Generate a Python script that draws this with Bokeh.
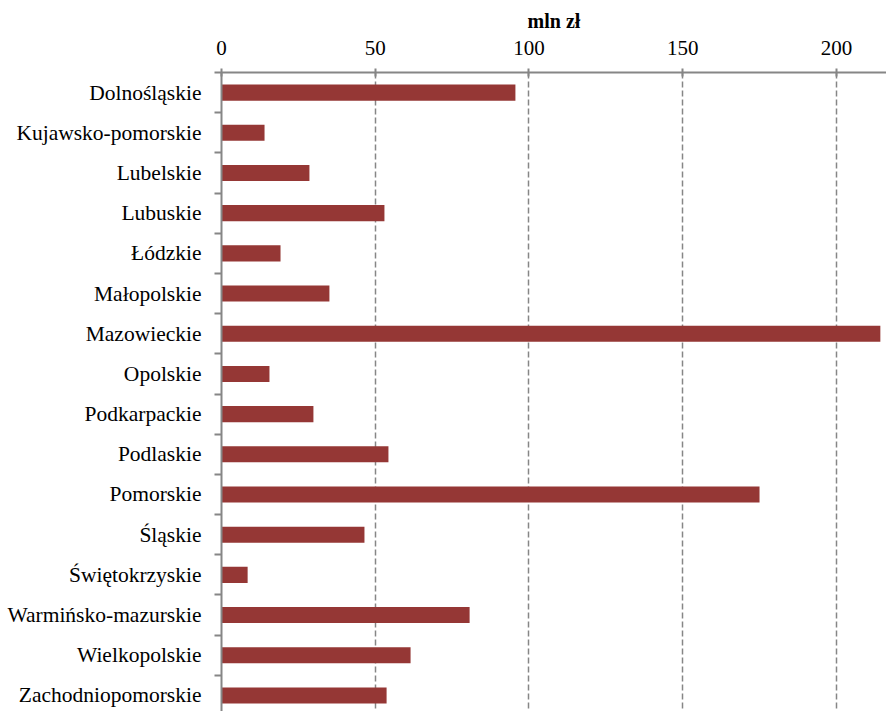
from bokeh.plotting import figure
from bokeh.models import Range1d, FixedTicker
from bokeh.embed import file_html
from bokeh.resources import INLINE

regions = ["Dolnośląskie", "Kujawsko-pomorskie", "Lubelskie", "Lubuskie", "Łódzkie",
           "Małopolskie", "Mazowieckie", "Opolskie", "Podkarpackie", "Podlaskie",
           "Pomorskie", "Śląskie", "Świętokrzyskie", "Warmińsko-mazurskie",
           "Wielkopolskie", "Zachodniopomorskie"]
values = [95.6, 14.0, 28.6, 53.0, 19.2, 35.1, 214.3, 15.6, 29.9, 54.3,
          175.0, 46.5, 8.5, 80.7, 61.5, 53.7]
x_ticks = [0, 50, 100, 150, 200]
x_title = "mln zł"

positions = list(range(1, len(regions) + 1))
boundaries = [i + 0.5 for i in range(0, len(regions) + 1)]

FONT = "Liberation Serif"
GRAY = "#868686"

p = figure(width=886, height=711, output_backend="svg", toolbar_location=None,
           x_axis_location="above",
           x_range=Range1d(0, 216.3), y_range=Range1d(16.4, 0.5),
           min_border_left=221, min_border_top=72, min_border_right=0, min_border_bottom=0)
p.outline_line_color = None

p.hbar(y=positions, right=values, left=0, height=0.4, fill_color="#953735",
       line_color=None)

xa = p.xaxis[0]
xa.ticker = FixedTicker(ticks=x_ticks)
xa.axis_label = x_title
xa.axis_label_text_font = FONT
xa.axis_label_text_font_style = "bold"
xa.axis_label_text_font_size = "20px"
xa.axis_label_text_color = "black"
xa.axis_label_standoff = 6
xa.major_label_text_font = FONT
xa.major_label_text_font_size = "21px"
xa.major_label_text_color = "black"
xa.major_label_standoff = 14
xa.axis_line_color = GRAY
xa.axis_line_width = 2
xa.major_tick_line_color = GRAY
xa.major_tick_line_width = 2
xa.major_tick_in = 4
xa.major_tick_out = 4
xa.minor_tick_line_color = None

ya = p.yaxis[0]
ya.ticker = FixedTicker(ticks=positions, minor_ticks=boundaries)
ya.major_label_overrides = {pos: name for pos, name in zip(positions, regions)}
ya.major_label_text_font = FONT
ya.major_label_text_font_size = "21.5px"
ya.major_label_text_color = "black"
ya.major_label_standoff = 13
ya.axis_line_color = GRAY
ya.axis_line_width = 2
ya.major_tick_line_color = None
ya.major_tick_in = 0
ya.major_tick_out = 0
ya.minor_tick_line_color = GRAY
ya.minor_tick_line_width = 2
ya.minor_tick_in = 0
ya.minor_tick_out = 7

p.xgrid.grid_line_color = GRAY
p.xgrid.grid_line_dash = "6 3"
p.xgrid.grid_line_width = 1.5
p.ygrid.grid_line_color = None

open("out.html", "w").write(file_html(p, INLINE))
